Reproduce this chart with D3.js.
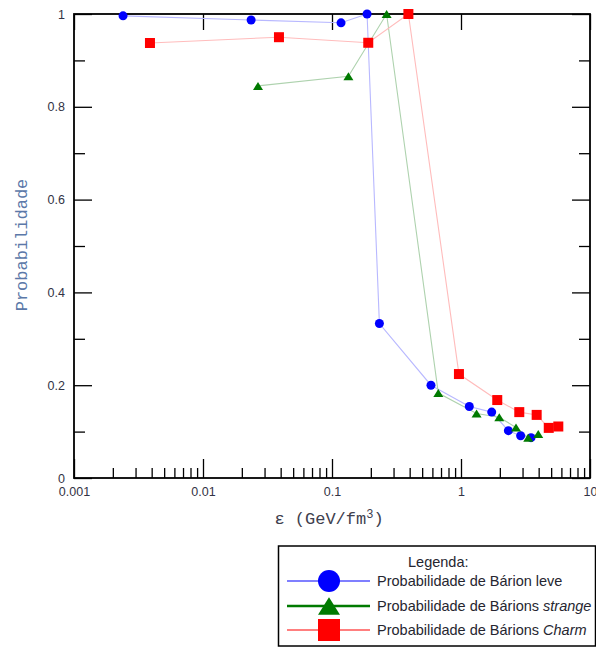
<!DOCTYPE html>
<html>
<head>
<meta charset="utf-8">
<script src="https://cdn.jsdelivr.net/npm/d3@7"></script>
<style>
  html, body { margin: 0; padding: 0; background: #fff; }
  svg { display: block; }
</style>
</head>
<body>
<svg id="chart" width="596" height="647"></svg>
<script>
// Energy density ε (GeV/fm^3) and baryon probabilities
const lightEps  = [0.0024, 0.0236, 0.1175, 0.187, 0.233, 0.585, 1.16, 1.73, 2.33, 2.90, 3.49];
const lightProb = [0.996, 0.987, 0.981, 1.0, 0.333, 0.200, 0.154, 0.142, 0.102, 0.091, 0.087];

const strangeEps  = [0.0267, 0.134, 0.265, 0.667, 1.32, 1.98, 2.67, 3.32, 3.97];
const strangeProb = [0.845, 0.866, 1.0, 0.183, 0.139, 0.131, 0.109, 0.087, 0.095];

const charmEps  = [0.00388, 0.0388, 0.191, 0.391, 0.964, 1.91, 2.83, 3.86, 4.79, 5.68];
const charmProb = [0.9375, 0.950, 0.938, 1.0, 0.224, 0.168, 0.142, 0.136, 0.108, 0.111];

const xTickValues = [0.001, 0.01, 0.1, 1, 10];
const xTickLabels = ["0.001", "0.01", "0.1", "1", "10"];
const yTickValues = [0, 0.2, 0.4, 0.6, 0.8, 1];
const yTickLabels = ["0", "0.2", "0.4", "0.6", "0.8", "1"];

const seriesNames = ["Probabilidade de Bárion leve", "Probabilidade de Bárions ", "Probabilidade de Bárions "];
const seriesItalic = ["", "strange", "Charm"];

const svg = d3.select("#chart");
const L = 74, R = 590, T = 14, B = 478;

const x = d3.scaleLog().domain([0.001, 10]).range([L, R]);
const y = d3.scaleLinear().domain([0, 1]).range([B, T]);

const font = "'Liberation Sans', Arial, sans-serif";
const mono = "'Liberation Mono', 'Courier New', monospace";

// minor tick positions
const xMinor = [];
for (let e = -3; e < 1; e++) for (let k = 2; k <= 9; k++) xMinor.push(k * Math.pow(10, e));
const yMinor = [0.1, 0.3, 0.5, 0.7, 0.9];

function styleAxis(g) {
  g.select(".domain").remove();
  g.selectAll(".tick line").attr("stroke", "#000").attr("stroke-width", 1.3);
  g.selectAll(".tick text").attr("font-family", font).attr("font-size", 12.5).attr("fill", "#333345");
}

// bottom axis: major with labels, minor ticks without
svg.append("g").attr("transform", `translate(0,${B})`)
  .call(d3.axisBottom(x).tickValues(xTickValues).tickSize(-19).tickPadding(9)
    .tickFormat((d, i) => xTickLabels[i]))
  .call(styleAxis);
svg.append("g").attr("transform", `translate(0,${B})`)
  .call(d3.axisBottom(x).tickValues(xMinor).tickSize(-10).tickFormat(""))
  .call(styleAxis);

// top axis: major ticks only
svg.append("g").attr("transform", `translate(0,${T})`)
  .call(d3.axisTop(x).tickValues(xTickValues).tickSize(-16).tickFormat(""))
  .call(styleAxis);

// left axis
svg.append("g").attr("transform", `translate(${L},0)`)
  .call(d3.axisLeft(y).tickValues(yTickValues).tickSize(-18).tickPadding(9)
    .tickFormat((d, i) => yTickLabels[i]))
  .call(styleAxis);
svg.append("g").attr("transform", `translate(${L},0)`)
  .call(d3.axisLeft(y).tickValues(yMinor).tickSize(-11).tickFormat(""))
  .call(styleAxis);

// right axis
svg.append("g").attr("transform", `translate(${R},0)`)
  .call(d3.axisRight(y).tickValues(yTickValues).tickSize(-18).tickFormat(""))
  .call(styleAxis);
svg.append("g").attr("transform", `translate(${R},0)`)
  .call(d3.axisRight(y).tickValues(yMinor).tickSize(-11).tickFormat(""))
  .call(styleAxis);

// frame
svg.append("rect").attr("x", L).attr("y", T).attr("width", R - L).attr("height", B - T)
  .attr("fill", "none").attr("stroke", "#000").attr("stroke-width", 1.8);

// axis titles
svg.append("text")
  .attr("transform", `translate(27,245) rotate(-90)`)
  .attr("text-anchor", "middle")
  .attr("font-family", mono).attr("font-size", 17)
  .attr("fill", "#5b78a8")
  .text("Probabilidade");

const xt = svg.append("text")
  .attr("x", 329).attr("y", 524)
  .attr("text-anchor", "middle")
  .attr("font-family", mono).attr("font-size", 17)
  .attr("fill", "#40404e");
xt.append("tspan").text("ε (GeV/fm");
xt.append("tspan").attr("font-size", 12).attr("dy", -6).text("3");
xt.append("tspan").attr("dy", 6).text(")");

// series
const series = [
  { xs: lightEps, ys: lightProb, line: "#b8b8ff", mark: "#0000ff", shape: "circle" },
  { xs: strangeEps, ys: strangeProb, line: "#aed2ae", mark: "#007a00", shape: "triangle" },
  { xs: charmEps, ys: charmProb, line: "#ffbcbc", mark: "#ff0000", shape: "square" }
];

const lineGen = d3.line().x(d => x(d[0])).y(d => y(d[1]));

series.forEach(s => {
  const pts = s.xs.map((v, i) => [v, s.ys[i]]);
  svg.append("path").datum(pts).attr("d", lineGen)
    .attr("fill", "none").attr("stroke", s.line).attr("stroke-width", 1.1);
});

function drawMarker(g, shape, cx, cy, color, size) {
  if (shape === "circle") {
    g.append("circle").attr("cx", cx).attr("cy", cy).attr("r", size / 2).attr("fill", color);
  } else if (shape === "square") {
    g.append("rect").attr("x", cx - size / 2).attr("y", cy - size / 2)
      .attr("width", size).attr("height", size).attr("fill", color);
  } else {
    const h = size * 0.8;
    g.append("path")
      .attr("d", `M${cx},${cy - h / 2}L${cx + size / 2},${cy + h / 2}L${cx - size / 2},${cy + h / 2}Z`)
      .attr("fill", color);
  }
}

const markSize = { circle: 9, triangle: 10, square: 10 };
series.forEach(s => {
  const g = svg.append("g");
  s.xs.forEach((v, i) => drawMarker(g, s.shape, x(v), y(s.ys[i]), s.mark, markSize[s.shape]));
});

// legend
const lg = svg.append("g");
lg.append("rect").attr("x", 278.5).attr("y", 546).attr("width", 317).attr("height", 100)
  .attr("fill", "#fff").attr("stroke", "#000").attr("stroke-width", 1.5);
lg.append("text").attr("x", 408).attr("y", 567)
  .attr("font-family", font).attr("font-size", 14.5).attr("fill", "#262630").text("Legenda:");

const legendRows = [581, 606, 630];
const legendLineW = [1.2, 2.6, 1.2];
const legendColor = ["#0000ff", "#007a00", "#ff0000"];
series.forEach((s, i) => {
  const cy = legendRows[i];
  lg.append("line").attr("x1", 287).attr("x2", 370).attr("y1", cy).attr("y2", cy)
    .attr("stroke", legendColor[i]).attr("stroke-width", legendLineW[i]);
  drawMarker(lg, s.shape, 329, cy, legendColor[i], 22);
  const t = lg.append("text").attr("x", 377).attr("y", cy + 5)
    .attr("font-family", font).attr("font-size", 14.5).attr("fill", "#262630");
  t.append("tspan").text(seriesNames[i]);
  if (seriesItalic[i]) t.append("tspan").attr("font-style", "italic").text(seriesItalic[i]);
});
</script>
</body>
</html>
